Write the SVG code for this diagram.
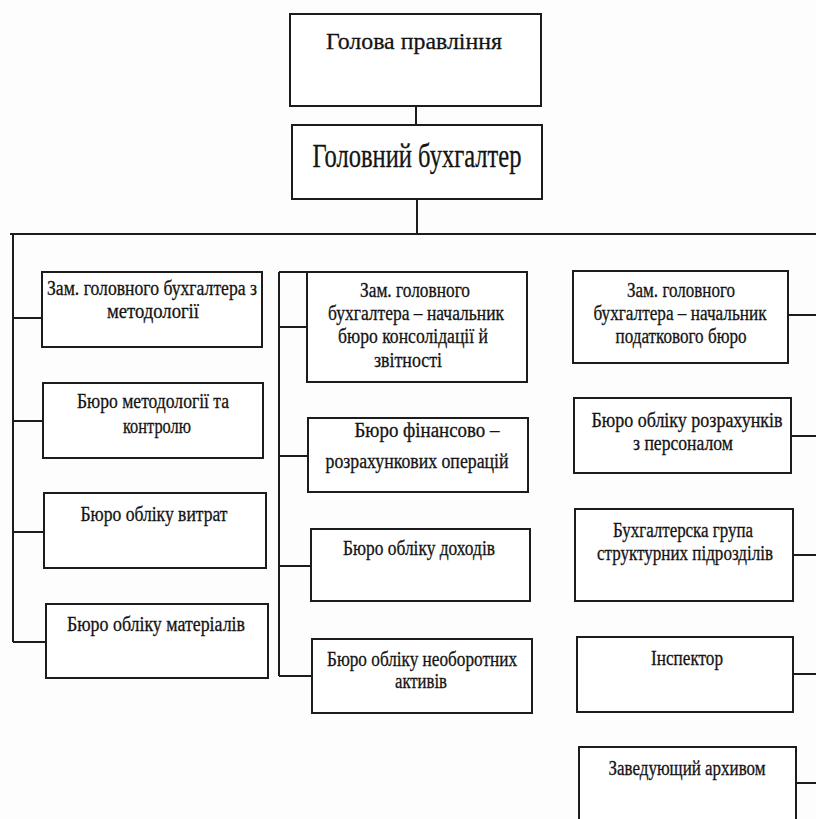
<svg xmlns="http://www.w3.org/2000/svg" width="816" height="819" viewBox="0 0 816 819">
<style>
.box{fill:#fff;stroke:#1c1c1c;stroke-width:2}
.ln{fill:none;stroke:#1c1c1c;stroke-width:2}
text{fill:#141414;stroke:#141414;stroke-width:0.3;text-anchor:middle}
.t{font-size:20px}
</style>
<rect width="816" height="819" fill="#fdfdfd"/>
<g id="connectors">
<path class="ln" d="M416 106V125M417 199V234M10 234H816"/>
<path class="ln" d="M13 234V642M13 318H42M13 421H43M13 532H44M13 642H46"/>
<path class="ln" d="M279 272V676M279 272H307M279 327H307M279 456H308M279 566H311M279 676H312"/>
<path class="ln" d="M788 315H816M791 436H816M793 555H816M793 674H816M796 783H816"/>
</g>
<g font-family="Liberation Serif, Times New Roman, serif">
<g id="n_head"><rect class="box" x="290" y="14" width="251" height="92"/><text font-size="24" x="414" y="49" textLength="176" lengthAdjust="spacingAndGlyphs">Голова правління</text></g>
<g id="n_chief"><rect class="box" x="292" y="125" width="250" height="74"/><text font-size="33" x="417" y="167" textLength="209" lengthAdjust="spacingAndGlyphs">Головний бухгалтер</text></g>
<g id="n_l1"><rect class="box" x="42" y="272" width="220" height="75"/><text class="t" x="152" y="295" textLength="210" lengthAdjust="spacingAndGlyphs">Зам. головного бухгалтера з</text><text class="t" x="153" y="318" textLength="92" lengthAdjust="spacingAndGlyphs">методології</text></g>
<g id="n_l2"><rect class="box" x="43" y="383" width="220" height="75"/><text class="t" x="153" y="408" textLength="152" lengthAdjust="spacingAndGlyphs">Бюро методології та</text><text class="t" x="157" y="433" textLength="68" lengthAdjust="spacingAndGlyphs">контролю</text></g>
<g id="n_l3"><rect class="box" x="44" y="493" width="222" height="75"/><text class="t" x="154" y="521" textLength="147" lengthAdjust="spacingAndGlyphs">Бюро обліку витрат</text></g>
<g id="n_l4"><rect class="box" x="46" y="604" width="222" height="74"/><text class="t" x="156" y="631" textLength="178" lengthAdjust="spacingAndGlyphs">Бюро обліку  матеріалів</text></g>
<g id="n_m1"><rect class="box" x="307" y="272" width="220" height="110"/><text class="t" x="415" y="297" textLength="110" lengthAdjust="spacingAndGlyphs">Зам. головного</text><text class="t" x="416" y="320" textLength="176" lengthAdjust="spacingAndGlyphs">бухгалтера – начальник</text><text class="t" x="413" y="343" textLength="150" lengthAdjust="spacingAndGlyphs">бюро консолідації й</text><text class="t" x="408" y="367" textLength="68" lengthAdjust="spacingAndGlyphs">звітності</text></g>
<g id="n_m2"><rect class="box" x="308" y="418" width="220" height="74"/><text class="t" x="427" y="437" textLength="145" lengthAdjust="spacingAndGlyphs">Бюро фінансово –</text><text class="t" x="417" y="468" textLength="183" lengthAdjust="spacingAndGlyphs">розрахункових операцій</text></g>
<g id="n_m3"><rect class="box" x="311" y="529" width="219" height="72"/><text class="t" x="419" y="555" textLength="152" lengthAdjust="spacingAndGlyphs">Бюро обліку доходів</text></g>
<g id="n_m4"><rect class="box" x="312" y="639" width="220" height="74"/><text class="t" x="422" y="666" textLength="190" lengthAdjust="spacingAndGlyphs">Бюро обліку необоротних</text><text class="t" x="421" y="688" textLength="52" lengthAdjust="spacingAndGlyphs">активів</text></g>
<g id="n_r1"><rect class="box" x="573" y="271" width="215" height="92"/><text class="t" x="681" y="297" textLength="108" lengthAdjust="spacingAndGlyphs">Зам. головного</text><text class="t" x="680" y="320" textLength="173" lengthAdjust="spacingAndGlyphs">бухгалтера – начальник</text><text class="t" x="681" y="343" textLength="131" lengthAdjust="spacingAndGlyphs">податкового бюро</text></g>
<g id="n_r2"><rect class="box" x="574" y="398" width="217" height="75"/><text class="t" x="687" y="427" textLength="191" lengthAdjust="spacingAndGlyphs">Бюро обліку розрахунків</text><text class="t" x="683" y="450" textLength="100" lengthAdjust="spacingAndGlyphs">з  персоналом</text></g>
<g id="n_r3"><rect class="box" x="575" y="509" width="218" height="92"/><text class="t" x="683" y="537" textLength="140" lengthAdjust="spacingAndGlyphs">Бухгалтерска група</text><text class="t" x="685" y="560" textLength="176" lengthAdjust="spacingAndGlyphs">структурних підрозділів</text></g>
<g id="n_r4"><rect class="box" x="577" y="637" width="216" height="75"/><text class="t" x="687" y="665" textLength="72" lengthAdjust="spacingAndGlyphs">Інспектор</text></g>
<g id="n_r5"><rect class="box" x="579" y="747" width="217" height="90"/><text class="t" x="687" y="775" textLength="157" lengthAdjust="spacingAndGlyphs">Заведующий архивом</text></g>
</g>
</svg>
